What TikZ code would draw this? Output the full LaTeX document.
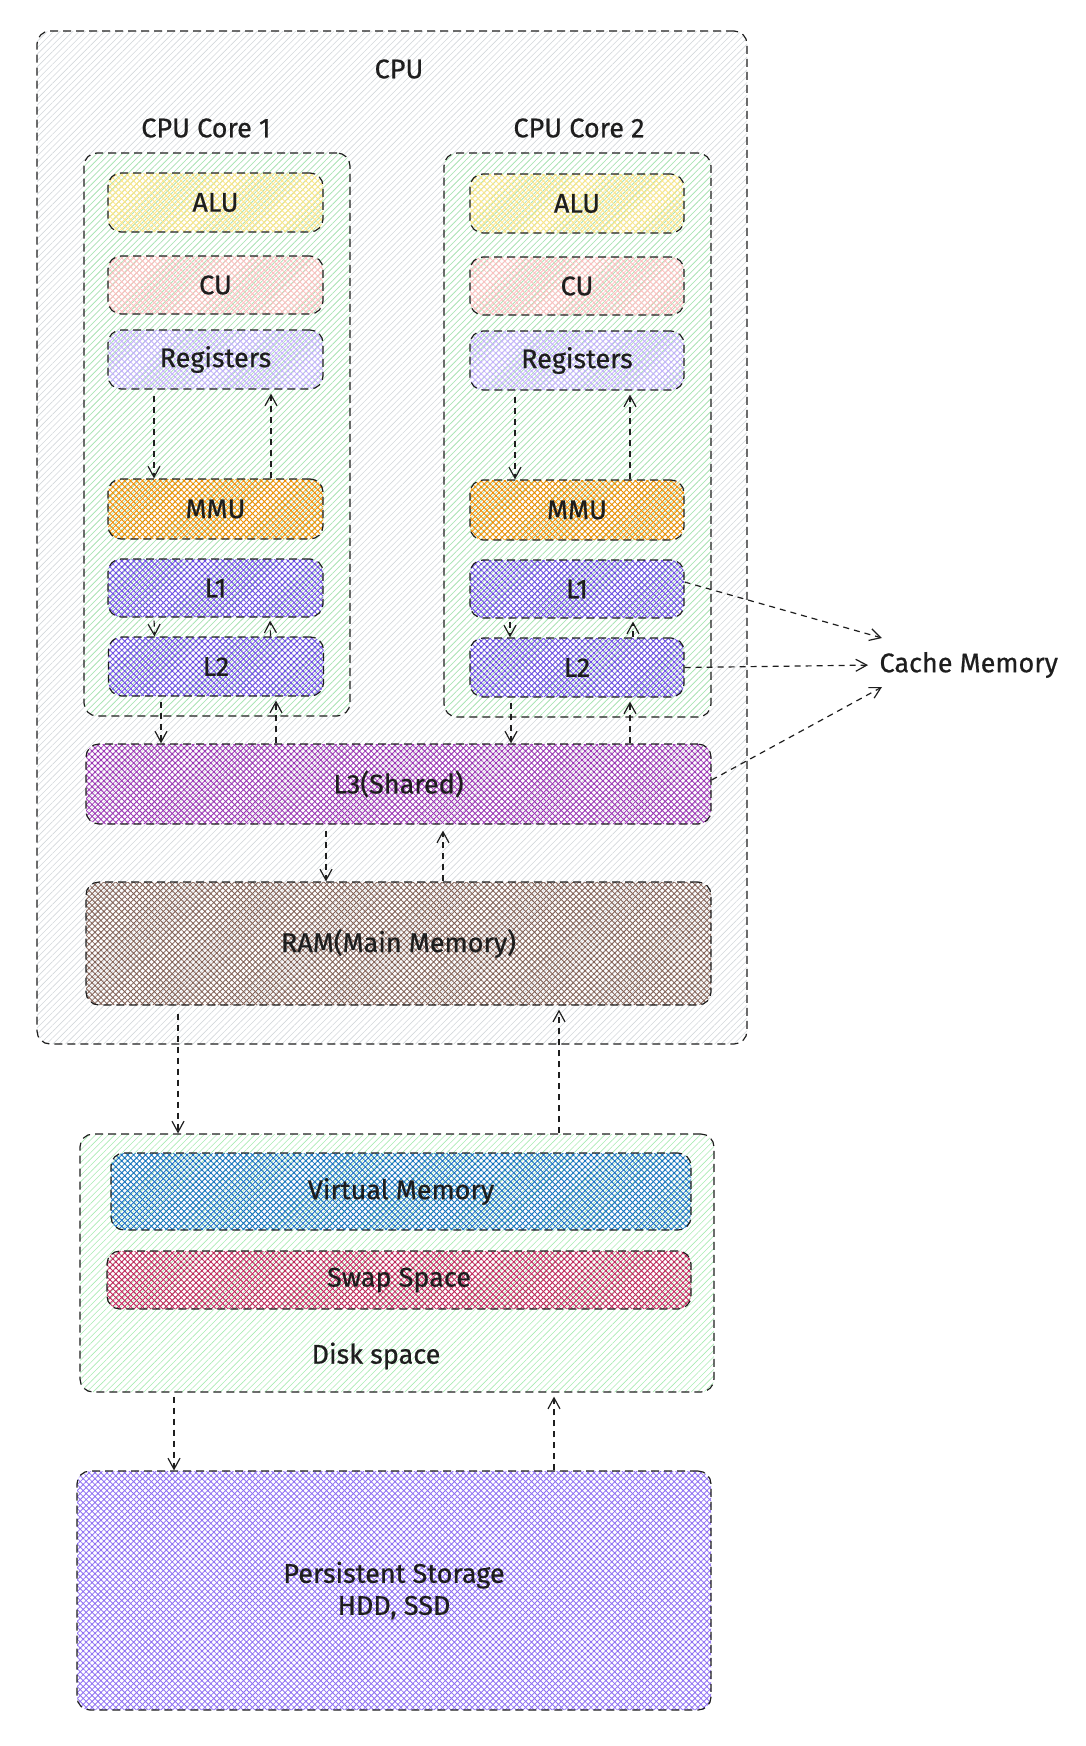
\documentclass[tikz,border=0pt]{standalone}
\usepackage{fontspec}
\setmainfont{Fira Sans}[FakeBold=0.6]
\usetikzlibrary{arrows.meta,patterns.meta,calc}
\definecolor{cpuhatch}{HTML}{D3D7DB}
\definecolor{grn}{HTML}{A8EBB2}
\definecolor{alucol}{HTML}{FBE58A}
\definecolor{cucol}{HTML}{FBC0C0}
\definecolor{regcol}{HTML}{C4B2FC}
\definecolor{mmucol}{HTML}{F08C00}
\definecolor{lcol}{HTML}{6E4CE6}
\definecolor{l3col}{HTML}{9C36B5}
\definecolor{ramcol}{HTML}{846358}
\definecolor{vmcol}{HTML}{1971C2}
\definecolor{swapcol}{HTML}{C2255C}
\definecolor{pscol}{HTML}{9072F2}
\definecolor{ink}{HTML}{1E1E1E}
\tikzset{
  box/.style={draw=ink, line width=1.2pt, dash pattern=on 8pt off 5pt, rounded corners=13pt, inner sep=0pt},
  xhatch/.style={pattern={Hatch[distance=4.2pt,line width=0.85pt,angle=45]}, pattern color=#1},
  lhatch/.style={pattern={Lines[distance=4.5pt,line width=0.6pt,angle=45]}, pattern color=#1},
  lbl/.style={font=\fontsize{27}{32}\selectfont, text=ink},
  arr/.style={draw=ink, line width=1.2pt, dash pattern=on 6pt off 5pt, -{Straight Barb[length=11pt,width=12pt,line width=1.2pt]}},
}
\begin{document}
\begin{tikzpicture}[x=1pt,y=-1pt]
\useasboundingbox (0,0) rectangle (1086,1746);
% CPU
\node[box, lhatch=cpuhatch, minimum width=710pt, minimum height=1013pt] (cpu) at (392,537.5) {};
\node[lbl] (cputxt) at (399,69) {CPU};
\node[lbl] (c1txt) at (206,128) {CPU Core 1};
\node[lbl] (c2txt) at (579,128) {CPU Core 2};
\node[box, lhatch=grn, minimum width=266pt, minimum height=563pt] (core1) at (217,434.5) {};
\node[box, lhatch=grn, minimum width=267pt, minimum height=564pt] (core2) at (577.5,435) {};
% core 1 items
\node[box, lbl, xhatch=alucol, minimum width=215pt, minimum height=59pt] (alua) at (215.5,202.5) {ALU};
\node[box, lbl, xhatch=cucol, minimum width=215pt, minimum height=58pt] (cua) at (215.5,285) {CU};
\node[box, lbl, xhatch=regcol, minimum width=215pt, minimum height=59pt] (rega) at (215.5,359.5) {Registers};
\node[box, lbl, xhatch=mmucol, minimum width=215pt, minimum height=60pt] (mmua) at (215.5,509) {MMU};
\node[box, lbl, xhatch=lcol, minimum width=215pt, minimum height=58pt] (loa) at (215.5,588) {L1};
\node[box, lbl, xhatch=lcol, minimum width=215pt, minimum height=59pt] (lta) at (216,666.5) {L2};
% core 2 items
\node[box, lbl, xhatch=alucol, minimum width=214pt, minimum height=59pt] (alub) at (577,203.5) {ALU};
\node[box, lbl, xhatch=cucol, minimum width=214pt, minimum height=58pt] (cub) at (577,286) {CU};
\node[box, lbl, xhatch=regcol, minimum width=214pt, minimum height=59pt] (regb) at (577,360.5) {Registers};
\node[box, lbl, xhatch=mmucol, minimum width=214pt, minimum height=60pt] (mmub) at (577,510) {MMU};
\node[box, lbl, xhatch=lcol, minimum width=214pt, minimum height=58pt] (lob) at (577,589) {L1};
\node[box, lbl, xhatch=lcol, minimum width=214pt, minimum height=59pt] (ltb) at (577,667.5) {L2};
% L3 and RAM
\node[box, lbl, xhatch=l3col, minimum width=625pt, minimum height=80pt] (lth) at (398.5,784) {L3(Shared)};
\node[box, lbl, xhatch=ramcol, minimum width=625pt, minimum height=123pt] (ram) at (398.5,943.5) {RAM(Main Memory)};
% Disk
\node[box, lhatch=grn, minimum width=634pt, minimum height=258pt] (disk) at (397,1263) {};
\node[box, lbl, xhatch=vmcol, minimum width=580pt, minimum height=77pt] (vm) at (401,1191.5) {Virtual Memory};
\node[box, lbl, xhatch=swapcol, minimum width=584pt, minimum height=58pt] (swap) at (399,1280) {Swap Space};
\node[lbl] (disktxt) at (376,1356) {Disk space};
% Persistent
\node[box, lbl, xhatch=pscol, minimum width=634pt, minimum height=239pt, align=center] (ps) at (394,1590.5) {Persistent Storage\\HDD, SSD};
% Cache memory
\node[lbl, anchor=west] (cache) at (876,665) {Cache Memory};
\coordinate (cm1) at (882,638);
\coordinate (cm3) at (882,687);
% arrows core 1
\draw[arr, shorten <=6pt] ([xshift=-61.5pt]rega.south) -- ([xshift=-61.5pt]mmua.north);
\draw[arr, shorten >=4pt] ([xshift=55.5pt]mmua.north) -- ([xshift=55.5pt]rega.south);
\draw[arr, shorten <=3pt] ([xshift=-61.5pt]loa.south) -- ([xshift=-61.5pt]lta.north);
\draw[arr, shorten >=3pt] ([xshift=54.5pt]lta.north) -- ([xshift=54.5pt]loa.south);
\draw[arr, shorten <=5pt] ([xshift=-55pt]lta.south) -- ([xshift=-55pt]lta.south |- lth.north);
\draw[arr, shorten >=4pt] ([xshift=60pt]lta.south |- lth.north) -- ([xshift=60pt]lta.south);
% arrows core 2
\draw[arr, shorten <=6pt] ([xshift=-62pt]regb.south) -- ([xshift=-62pt]mmub.north);
\draw[arr, shorten >=4pt] ([xshift=53pt]mmub.north) -- ([xshift=53pt]regb.south);
\draw[arr, shorten <=3pt] ([xshift=-67pt]lob.south) -- ([xshift=-67pt]ltb.north);
\draw[arr, shorten >=3pt] ([xshift=56pt]ltb.north) -- ([xshift=56pt]lob.south);
\draw[arr, shorten <=5pt] ([xshift=-66pt]ltb.south) -- ([xshift=-66pt]ltb.south |- lth.north);
\draw[arr, shorten >=4pt] ([xshift=53pt]ltb.south |- lth.north) -- ([xshift=53pt]ltb.south);
% L3 <-> RAM
\draw[arr, shorten <=6pt] ([xshift=-72.5pt]lth.south) -- ([xshift=-72.5pt]ram.north);
\draw[arr, shorten >=6pt] ([xshift=44.5pt]ram.north) -- ([xshift=44.5pt]lth.south);
% RAM <-> Disk
\draw[arr, shorten <=8pt] ([xshift=-220.5pt]ram.south) -- ([xshift=-220.5pt]ram.south |- disk.north);
\draw[arr, shorten >=4pt] ([xshift=160.5pt]ram.south |- disk.north) -- ([xshift=160.5pt]ram.south);
% Disk <-> Persistent
\draw[arr, shorten <=4pt] ([xshift=-223pt]disk.south) -- ([xshift=-223pt]disk.south |- ps.north);
\draw[arr, shorten >=4pt] ([xshift=157pt]disk.south |- ps.north) -- ([xshift=157pt]disk.south);
% cache arrows
\draw[arr] ([yshift=7pt]lob.east) -- (cm1);
\draw[arr, shorten >=8pt] (ltb.east) -- (cache.west);
\draw[arr] ([yshift=4pt]lth.east) -- (cm3);
\end{tikzpicture}
\end{document}
